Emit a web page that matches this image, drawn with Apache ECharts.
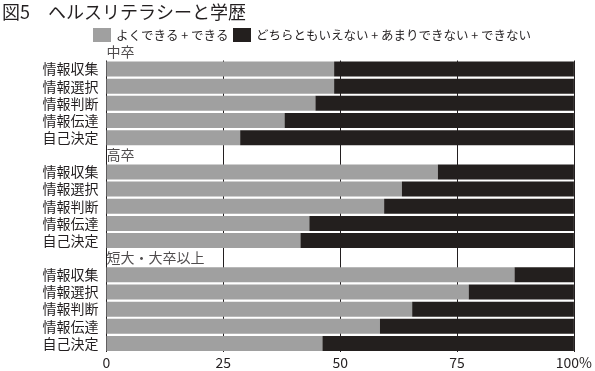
<!DOCTYPE html>
<html><head><meta charset="utf-8">
<script src="https://cdn.jsdelivr.net/npm/echarts@6/dist/echarts.min.js"></script>
<style>html,body{margin:0;padding:0;background:#fff}#c{width:595px;height:371px}</style>
</head><body><div id="c"></div>
<script>
const titleText = '図5　ヘルスリテラシーと学歴';
const seriesNames = ['よくできる + できる', 'どちらともいえない + あまりできない + できない'];
const groups = ['中卒', '高卒', '短大・大卒以上'];
const categories = ['情報収集', '情報選択', '情報判断', '情報伝達', '自己決定'];
// よくできる＋できる (%)
const goodChu = [48.7, 48.7, 44.7, 38.1, 28.6];
const goodKou = [70.9, 63.2, 59.4, 43.4, 41.5];
const goodDai = [87.3, 77.5, 65.4, 58.5, 46.2];
// どちらともいえない＋あまりできない＋できない (%)
const badChu = [51.3, 51.3, 55.3, 61.9, 71.4];
const badKou = [29.1, 36.8, 40.6, 56.6, 58.5];
const badDai = [12.7, 22.5, 34.6, 41.5, 53.8];
const xTicks = [0, 25, 50, 75, 100];

const goodAll = [goodChu, goodKou, goodDai];
const badAll = [badChu, badKou, badDai];
const yCats = [], goodData = [], badData = [], headerData = [];
groups.forEach((g, gi) => {
  if (gi > 0) { yCats.push(g + '|'); goodData.push('-'); badData.push('-'); }
  headerData.push({ value: [0, yCats.length], name: g });
  categories.forEach((c, ci) => {
    yCats.push(g + '|' + c);
    goodData.push(goodAll[gi][ci]);
    badData.push(badAll[gi][ci]);
  });
});

const FONT = '"Noto Sans CJK JP", "Noto Sans", sans-serif';
const TXT = '#231f20';
const chart = echarts.init(document.getElementById('c'), null, { renderer: 'canvas' });
chart.setOption({
  animation: false,
  textStyle: { fontFamily: FONT, color: TXT },
  title: { text: titleText, left: -3, top: -2, textStyle: { fontFamily: FONT, fontSize: 18, fontWeight: 'normal', color: TXT } },
  legend: [
    { data: [seriesNames[0]], left: 88, top: 23, itemWidth: 18, itemHeight: 14, icon: 'rect',
      textStyle: { fontFamily: FONT, fontSize: 12.5, color: TXT } },
    { data: [seriesNames[1]], left: 228, top: 23, itemWidth: 18, itemHeight: 14, icon: 'rect',
      textStyle: { fontFamily: FONT, fontSize: 12.5, color: TXT } }
  ],
  grid: { left: 106.5, right: 19.5, top: 60.5, bottom: 19 },
  xAxis: {
    type: 'value', min: xTicks[0], max: xTicks[xTicks.length - 1], interval: 25,
    axisLine: { show: false }, axisTick: { show: false },
    splitLine: { show: true, lineStyle: { color: TXT, width: 1 } },
    axisLabel: { fontFamily: FONT, fontSize: 14, color: TXT, margin: 4,
      formatter: v => v === 100 ? '100%' : String(v) }
  },
  yAxis: {
    type: 'category', data: yCats, inverse: true,
    axisLine: { show: false }, axisTick: { show: false },
    axisLabel: { fontFamily: FONT, fontSize: 14, color: TXT, margin: 8, interval: 0,
      formatter: v => v.split('|')[1] }
  },
  series: [
    { name: seriesNames[0], type: 'bar', stack: 's', data: goodData, barWidth: 15,
      itemStyle: { color: '#a0a0a0' } },
    { name: seriesNames[1], type: 'bar', stack: 's', data: badData, barWidth: 15,
      itemStyle: { color: '#231f1e' } },
    { type: 'scatter', data: headerData, symbolSize: 0, silent: true, legendHoverLink: false,
      label: { show: true, position: 'right', distance: 0, offset: [0, -17.2],
        formatter: p => p.name, fontFamily: FONT, fontSize: 14, color: TXT } }
  ]
});
</script></body></html>
